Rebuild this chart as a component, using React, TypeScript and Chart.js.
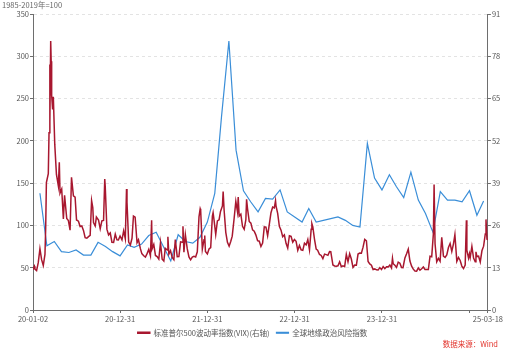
import { useEffect, useRef } from 'react';
import { Chart, registerables } from 'chart.js';
Chart.register(...registerables);

// S&P 500 volatility index (VIX), right axis
const vixDates = [
  '2020-01-02','2020-01-08','2020-01-10','2020-01-17','2020-01-24','2020-01-31','2020-02-07','2020-02-14','2020-02-21','2020-02-24','2020-02-27',
  '2020-03-06','2020-03-09','2020-03-12','2020-03-13','2020-03-16','2020-03-18','2020-03-20','2020-03-24','2020-03-27','2020-04-02','2020-04-09',
  '2020-04-17','2020-04-21','2020-04-24','2020-05-01','2020-05-08','2020-05-13','2020-05-22','2020-05-29','2020-06-05','2020-06-11','2020-06-19',
  '2020-06-26','2020-07-02','2020-07-10','2020-07-17','2020-07-24','2020-07-31','2020-08-07','2020-08-14','2020-08-21','2020-08-28','2020-09-03',
  '2020-09-08','2020-09-11','2020-09-18','2020-09-23','2020-10-02','2020-10-09','2020-10-16','2020-10-23','2020-10-28','2020-10-30','2020-11-06',
  '2020-11-13','2020-11-20','2020-11-27','2020-12-04','2020-12-11','2020-12-18','2020-12-24','2020-12-31',
  '2021-01-08','2021-01-15','2021-01-22','2021-01-27','2021-01-29','2021-02-05','2021-02-12','2021-02-19','2021-02-25','2021-03-04','2021-03-12',
  '2021-03-18','2021-03-26','2021-04-01','2021-04-09','2021-04-16','2021-04-23','2021-04-30','2021-05-07','2021-05-12','2021-05-14','2021-05-21',
  '2021-05-28','2021-06-04','2021-06-11','2021-06-18','2021-06-25','2021-07-02','2021-07-08','2021-07-16','2021-07-19','2021-07-23','2021-07-30',
  '2021-08-06','2021-08-13','2021-08-19','2021-08-27','2021-09-03','2021-09-10','2021-09-17','2021-09-20','2021-09-24','2021-09-30','2021-10-08',
  '2021-10-15','2021-10-22','2021-10-29','2021-11-05','2021-11-12','2021-11-19','2021-11-26','2021-12-01','2021-12-03','2021-12-10','2021-12-17',
  '2021-12-20','2021-12-23','2021-12-31',
  '2022-01-07','2022-01-14','2022-01-21','2022-01-24','2022-01-28','2022-02-04','2022-02-11','2022-02-18','2022-02-24','2022-03-04','2022-03-07',
  '2022-03-11','2022-03-18','2022-03-25','2022-04-01','2022-04-08','2022-04-14','2022-04-22','2022-04-29','2022-05-06','2022-05-09','2022-05-13',
  '2022-05-20','2022-05-27','2022-06-03','2022-06-10','2022-06-13','2022-06-17','2022-06-24','2022-07-01','2022-07-08','2022-07-15','2022-07-22',
  '2022-07-29','2022-08-05','2022-08-12','2022-08-19','2022-08-26','2022-09-02','2022-09-09','2022-09-16','2022-09-23','2022-09-30','2022-10-07',
  '2022-10-12','2022-10-14','2022-10-21','2022-10-28','2022-11-04','2022-11-11','2022-11-18','2022-11-25','2022-12-02','2022-12-09','2022-12-16',
  '2022-12-23','2022-12-30',
  '2023-01-06','2023-01-13','2023-01-20','2023-01-27','2023-02-03','2023-02-10','2023-02-17','2023-02-24','2023-03-03','2023-03-10','2023-03-13',
  '2023-03-17','2023-03-24','2023-03-31','2023-04-06','2023-04-14','2023-04-21','2023-04-28','2023-05-05','2023-05-12','2023-05-19','2023-05-26',
  '2023-05-31','2023-06-09','2023-06-16','2023-06-23','2023-06-30','2023-07-07','2023-07-14','2023-07-21','2023-07-28','2023-08-04','2023-08-11',
  '2023-08-18','2023-08-25','2023-09-01','2023-09-08','2023-09-15','2023-09-22','2023-09-29','2023-10-06','2023-10-13','2023-10-20','2023-10-27',
  '2023-11-03','2023-11-10','2023-11-17','2023-11-24','2023-12-01','2023-12-08','2023-12-15','2023-12-22','2023-12-29',
  '2024-01-05','2024-01-12','2024-01-19','2024-01-26','2024-02-02','2024-02-09','2024-02-13','2024-02-16','2024-02-23','2024-03-01','2024-03-08',
  '2024-03-15','2024-03-22','2024-03-28','2024-04-05','2024-04-12','2024-04-19','2024-04-26','2024-05-03','2024-05-10','2024-05-17','2024-05-24',
  '2024-05-31','2024-06-07','2024-06-14','2024-06-21','2024-06-28','2024-07-05','2024-07-12','2024-07-19','2024-07-26','2024-08-02','2024-08-05',
  '2024-08-09','2024-08-16','2024-08-23','2024-08-30','2024-09-06','2024-09-13','2024-09-20','2024-09-27','2024-10-04','2024-10-11','2024-10-18',
  '2024-10-25','2024-10-31','2024-11-08','2024-11-15','2024-11-22','2024-11-29','2024-12-06','2024-12-13','2024-12-18','2024-12-20','2024-12-27',
  '2024-12-31',
  '2025-01-03','2025-01-10','2025-01-17','2025-01-24','2025-01-27','2025-01-31','2025-02-07','2025-02-14','2025-02-21','2025-02-28','2025-03-07',
  '2025-03-10','2025-03-14','2025-03-18',
];
const vixValues = [
  12.47,13.45,12.56,12.1,14.56,18.84,15.47,13.68,17.08,25.03,39.16,
  41.94,54.46,75.47,57.83,82.69,76.45,66.04,61.67,65.54,50.91,41.67,
  38.15,45.41,35.93,37.19,27.98,35.28,28.16,27.51,24.52,40.79,35.12,
  34.73,27.68,27.29,25.68,25.84,24.46,22.21,22.05,22.54,22.96,33.6,
  31.46,26.87,25.83,28.58,27.63,25.0,27.41,27.55,40.28,38.02,24.86,
  23.1,23.7,20.84,20.79,23.31,21.57,21.53,22.75,
  21.56,24.34,21.91,37.21,33.09,20.87,19.97,22.05,28.89,28.57,20.69,
  21.58,18.86,17.33,16.69,16.25,17.33,18.61,16.69,27.59,18.81,20.15,
  16.76,16.42,15.65,20.7,15.62,15.07,19.0,18.45,22.5,17.2,18.24,
  16.15,15.45,21.67,16.39,16.41,20.95,20.81,25.71,17.75,23.14,18.77,
  16.3,15.43,16.26,16.48,16.29,17.91,28.62,31.12,30.67,18.69,21.57,
  22.87,17.96,17.22,
  18.76,19.19,28.85,29.9,27.66,23.22,27.36,27.75,30.32,31.98,36.45,
  30.75,23.87,20.81,19.63,21.16,22.7,28.21,33.4,30.19,34.75,28.87,
  29.43,25.72,24.79,27.75,34.02,31.13,27.23,26.7,24.64,24.23,23.03,
  21.33,21.15,19.53,20.6,25.56,25.47,22.79,26.3,29.92,31.62,31.36,
  33.57,32.02,29.69,25.75,24.55,22.52,23.12,20.5,19.06,22.83,22.62,
  20.87,21.67,
  21.13,18.35,19.85,18.51,18.33,20.53,20.02,21.67,18.49,24.8,26.52,
  25.51,21.74,18.7,18.4,17.07,16.77,15.78,17.19,17.03,16.81,17.95,
  17.94,13.83,13.54,13.44,13.59,14.83,13.34,13.6,13.33,17.1,14.84,
  17.3,15.68,13.09,13.84,13.79,17.2,17.52,17.45,19.32,21.71,21.27,
  14.91,14.17,13.8,12.46,12.63,12.35,12.28,13.03,12.45,
  13.35,12.7,13.3,13.26,13.85,12.93,15.85,14.24,13.75,13.11,14.74,
  14.41,13.06,13.01,16.03,17.31,18.71,15.03,13.49,12.55,11.99,11.93,
  12.92,12.22,12.66,13.2,12.44,12.48,12.46,16.52,16.39,23.39,38.57,
  20.37,14.8,15.86,15.0,22.38,16.56,16.15,16.96,19.21,20.46,18.03,
  20.33,23.16,14.94,16.14,15.24,13.51,12.77,13.81,27.62,18.36,15.95,
  17.35,
  16.13,19.54,15.97,14.85,17.9,16.43,16.54,14.77,18.21,19.63,23.37,
  27.86,21.77,21.7,
];

// Global geopolitical risk index (monthly, 1985-2019 = 100), left axis
const gprStartYear = 2020;
const gprValues = [
  138, 76, 81, 69, 68, 71, 65, 65, 80, 75, 69, 64,
  77, 74, 78, 88, 92, 75, 58, 89, 81, 79, 86, 104,
  138, 228, 318, 189, 141, 128, 116, 132, 131, 142, 116, 110,
  104, 120, 104, 106, 108, 110, 106, 100, 98, 197, 156, 142,
  160, 146, 133, 163, 130, 114, 92, 140, 130, 130, 128, 141,
  112, 129,
];

const xTickDates = ['2020-01-02', '2020-12-31', '2021-12-31', '2022-12-31', '2023-12-31', '2024-12-31', '2025-03-18'];
const xTickLabels = ['20-01-02', '20-12-31', '21-12-31', '22-12-31', '23-12-31', '', '25-03-18'];
const leftAxis = { min: 0, max: 350, step: 50 };
const rightAxis = { min: 0, max: 91, step: 13 };

const seriesNames = ['标准普尔500波动率指数(VIX)(右轴)', '全球地缘政治风险指数'];
const unitNote = '1985-2019年=100';
const sourceNote = '数据来源：Wind';

const DAY = 86400000;
const ORIGIN = Date.UTC(2020, 0, 2);
const dayNum = (s: string) => {
  const [y, m, d] = s.split('-').map(Number);
  return (Date.UTC(y, m - 1, d) - ORIGIN) / DAY;
};
const monthEndDay = (i: number) => (Date.UTC(gprStartYear, i + 1, 0) - ORIGIN) / DAY;

const FONT = "'Noto Sans CJK SC', 'Noto Sans', sans-serif";
const RED = '#a8172f';
const BLUE = '#3a8ed8';
const AXIS = '#6e6e6e';

export default function App() {
  const ref = useRef<HTMLCanvasElement>(null);

  useEffect(() => {
    document.body.style.margin = '0';
    const canvas = ref.current;
    if (!canvas) return;

    const xTickValues = xTickDates.map(dayNum);
    const labelFor = (v: number) => {
      const i = xTickValues.indexOf(v);
      return i >= 0 ? xTickLabels[i] : '';
    };

    const textPlugin = {
      id: 'notes',
      afterDraw(chart: any) {
        const ctx = chart.ctx;
        ctx.save();
        ctx.textBaseline = 'middle';
        ctx.font = `7.5px ${FONT}`;
        ctx.fillStyle = '#666';
        ctx.textAlign = 'left';
        ctx.fillText(unitNote, 2, 5);
        ctx.fillStyle = '#e2332b';
        ctx.textAlign = 'right';
        ctx.font = `7.5px ${FONT}`;
        ctx.fillText(sourceNote, chart.width - 7, 344);
        ctx.restore();
      },
    };

    const chart = new Chart(canvas, {
      type: 'line',
      data: {
        datasets: [
          {
            label: seriesNames[0],
            data: vixDates.map((d, i) => ({ x: dayNum(d), y: vixValues[i] })),
            borderColor: RED,
            backgroundColor: RED,
            borderWidth: 1.5,
            pointRadius: 0,
            tension: 0,
            yAxisID: 'y1',
          },
          {
            label: seriesNames[1],
            data: gprValues.map((v, i) => ({ x: monthEndDay(i), y: v })),
            borderColor: BLUE,
            backgroundColor: BLUE,
            borderWidth: 1.2,
            pointRadius: 0,
            tension: 0,
            yAxisID: 'y',
          },
        ],
      },
      options: {
        responsive: false,
        animation: false,
        layout: { padding: { top: 14, left: 0, right: 0, bottom: 4.5 } },
        plugins: {
          legend: {
            position: 'bottom',
            labels: {
              boxWidth: 12,
              boxHeight: 1,
              padding: 7,
              color: '#555',
              font: { size: 7.5, family: FONT },
            },
          },
          tooltip: { enabled: false },
        },
        scales: {
          x: {
            type: 'linear',
            min: 0,
            max: dayNum('2025-03-18'),
            afterBuildTicks: (axis: any) => {
              axis.ticks = xTickValues.map((v) => ({ value: v }));
            },
            afterFit: (s: any) => {
              s.height = 12;
            },
            ticks: {
              autoSkip: false,
              maxRotation: 0,
              padding: 2,
              color: '#555',
              font: { size: 7.5, family: FONT },
              callback: (v: any) => labelFor(Number(v)),
            },
            grid: { drawOnChartArea: false, tickLength: 3, tickColor: AXIS },
            border: { color: AXIS },
          },
          y: {
            position: 'left',
            min: leftAxis.min,
            max: leftAxis.max,
            afterFit: (s: any) => {
              s.width = 33;
            },
            ticks: {
              stepSize: leftAxis.step,
              padding: 1,
              color: '#555',
              font: { size: 7.5, family: FONT },
            },
            grid: {
              color: (c: any) => (c.tick && c.tick.value === 0 ? 'rgba(0,0,0,0)' : '#e3e3e3'),
              tickLength: 3,
              tickColor: AXIS,
            },
            border: { color: AXIS, dash: [3, 3] },
          },
          y1: {
            position: 'right',
            min: rightAxis.min,
            max: rightAxis.max,
            afterFit: (s: any) => {
              s.width = 17;
            },
            ticks: {
              stepSize: rightAxis.step,
              padding: 1,
              color: '#555',
              font: { size: 7.5, family: FONT },
            },
            grid: { drawOnChartArea: false, tickLength: 3, tickColor: AXIS },
            border: { color: AXIS },
          },
        },
      },
      plugins: [textPlugin],
    } as any);

    return () => chart.destroy();
  }, []);

  return (
    <div style={{ width: 505, height: 351 }}>
      <canvas ref={ref} width={505} height={351} style={{ display: 'block' }} />
    </div>
  );
}
